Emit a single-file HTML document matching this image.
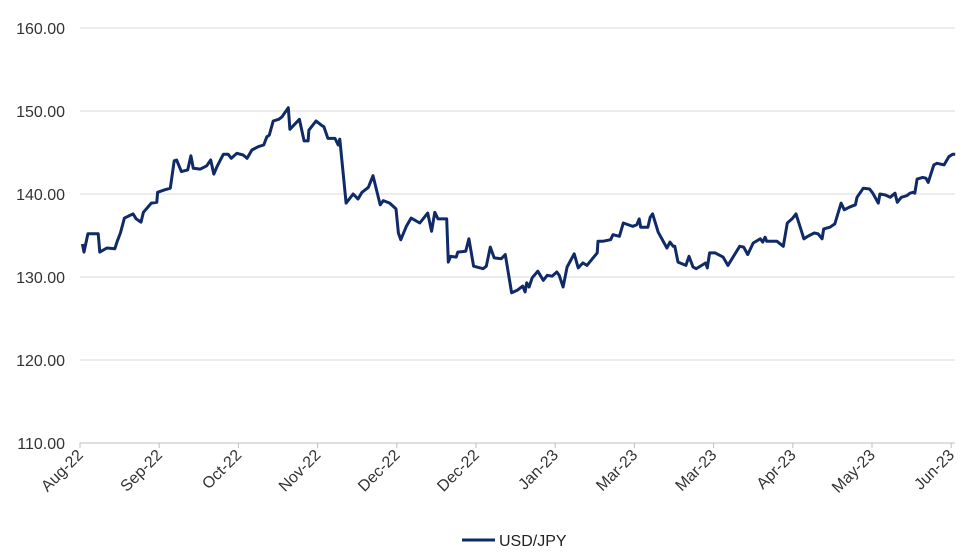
<!DOCTYPE html>
<html><head><meta charset="utf-8"><style>
body{margin:0;background:#fff;}
svg{display:block;font-family:"Liberation Sans",Arial,sans-serif;}
</style></head><body>
<svg id="chart" width="980" height="557">
<g id="grid"></g>
<g id="yticks"></g>
<g id="xticks"></g>
<path id="series" fill="none" stroke="#0f2a66" stroke-width="3" stroke-linejoin="round"></path>
<g>
<line x1="462" y1="540" x2="495" y2="540" stroke="#0f2a66" stroke-width="3"/>
<text x="499" y="546" font-size="16" fill="#222">USD/JPY</text>
</g>
</svg>
<script>
const xLabels=["Aug-22","Sep-22","Oct-22","Nov-22","Dec-22","Dec-22","Jan-23","Mar-23","Mar-23","Apr-23","May-23","Jun-23"];
const yTicks=[110,120,130,140,150,160];
const tVals=[.03,.05,.10,.23,.25,.34,.44,.47,.51,.56,.67,.71,.77,.80,.90,.97,.98,1.07,1.14,1.19,1.22,1.28,1.36,1.40,1.43,1.52,1.60,1.65,1.69,1.73,1.81,1.87,1.91,1.98,2.06,2.11,2.17,2.25,2.32,2.36,2.39,2.44,2.51,2.55,2.63,2.65,2.77,2.83,2.88,2.89,2.98,3.06,3.08,3.13,3.22,3.26,3.28,3.36,3.45,3.51,3.56,3.64,3.70,3.79,3.83,3.91,3.99,4.02,4.05,4.12,4.18,4.29,4.39,4.44,4.48,4.52,4.63,4.65,4.68,4.75,4.77,4.87,4.91,4.97,5.09,5.13,5.18,5.23,5.32,5.37,5.45,5.52,5.59,5.62,5.64,5.67,5.71,5.78,5.85,5.90,5.96,6.02,6.05,6.10,6.15,6.24,6.29,6.35,6.40,6.53,6.54,6.60,6.70,6.73,6.81,6.86,6.98,7.03,7.06,7.08,7.17,7.20,7.23,7.30,7.41,7.45,7.49,7.51,7.55,7.65,7.69,7.74,7.78,7.85,7.90,7.92,7.95,8.02,8.12,8.18,8.33,8.38,8.43,8.50,8.59,8.62,8.65,8.67,8.80,8.88,8.93,8.99,9.04,9.14,9.19,9.27,9.32,9.37,9.39,9.47,9.53,9.61,9.65,9.71,9.79,9.81,9.89,9.97,10.01,10.08,10.10,10.16,10.23,10.29,10.32,10.37,10.44,10.48,10.52,10.54,10.57,10.64,10.68,10.71,10.78,10.82,10.91,10.97,11.02,11.05];
const rates=[133.98,133.0,135.2,135.2,133.0,133.5,133.4,134.3,135.3,137.1,137.6,137.0,136.6,137.8,138.9,139.0,140.2,140.5,140.7,144.0,144.1,142.7,142.9,144.6,143.1,143.0,143.4,144.1,142.4,143.3,144.8,144.8,144.3,144.9,144.7,144.3,145.3,145.7,145.9,146.9,147.1,148.8,149.0,149.3,150.4,147.8,149.0,146.4,146.4,147.7,148.8,148.2,148.1,146.7,146.7,145.9,146.6,138.9,140.0,139.4,140.2,140.8,142.2,138.7,139.2,138.9,138.2,135.3,134.5,136.1,137.1,136.5,137.7,135.5,137.8,137.0,137.0,131.8,132.5,132.4,133.0,133.1,134.6,131.3,131.0,131.3,133.6,132.3,132.2,132.7,128.1,128.4,128.9,128.2,129.3,128.8,129.9,130.7,129.6,130.2,130.1,130.6,130.2,128.8,131.2,132.8,131.1,131.7,131.4,132.9,134.3,134.3,134.5,135.1,134.9,136.5,136.1,136.3,137.0,136.0,136.0,137.2,137.6,135.4,133.5,134.2,133.7,133.7,131.8,131.4,132.5,131.2,131.0,131.4,131.7,131.1,132.9,132.9,132.4,131.4,133.7,133.6,132.7,134.1,134.6,134.2,134.8,134.3,134.3,133.7,136.5,137.0,137.6,134.6,134.9,135.3,135.2,134.6,135.8,136.0,136.4,138.9,138.1,138.4,138.7,139.6,140.7,140.6,140.1,138.9,140.0,139.9,139.6,140.1,139.0,139.6,139.8,140.1,140.2,140.1,141.8,142.0,141.9,141.4,143.5,143.7,143.5,144.5,144.8,144.8];

const NS="http://www.w3.org/2000/svg";
const X0=80,X1=955,Y0=443,Y1=28,XSTEP=79.2;
const xs=t=>X0+t*XSTEP;
const ys=v=>Y0-(v-110)/(160-110)*(Y0-Y1);
function mk(tag,attrs,parent){const e=document.createElementNS(NS,tag);for(const k in attrs)e.setAttribute(k,attrs[k]);parent.appendChild(e);return e;}
const grid=document.getElementById('grid'),yt=document.getElementById('yticks'),xt=document.getElementById('xticks');
yTicks.forEach(v=>{
  const l=mk('line',{x1:X0,x2:X1,y1:ys(v),y2:ys(v),stroke:v===110?'#bfbfbf':'#d9d9d9','stroke-width':1},grid);
  
  
  const t=mk('text',{x:65,y:ys(v)+6,'text-anchor':'end','font-size':16,fill:'#333'},yt);
  t.textContent=v.toFixed(2);
  
  
});
xLabels.forEach((lab,i)=>{
  const x=xs(i);
  const tk=mk('line',{x1:x,x2:x,y1:Y0,y2:Y0+5,stroke:'#bfbfbf'},grid);
  
  
  const t=mk('text',{x:x+4,y:Y0+13,'text-anchor':'end','font-size':16,fill:'#333',transform:`rotate(-45 ${x+4} ${Y0+13})`},xt);
  t.textContent=lab;
  
  
});
document.getElementById('series').setAttribute('d',tVals.map((t,i)=>(i?'L':'M')+xs(t).toFixed(1)+','+ys(rates[i]).toFixed(1)).join(''));
</script>
</body></html>
